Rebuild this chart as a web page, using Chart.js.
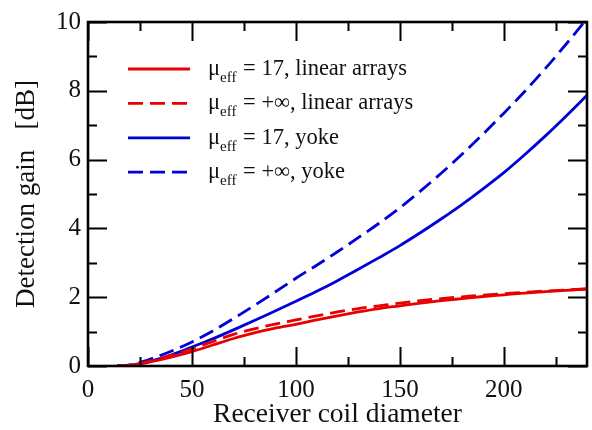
<!DOCTYPE html>
<html>
<head>
<meta charset="utf-8">
<script src="https://cdn.jsdelivr.net/npm/chart.js@4.4.1/dist/chart.umd.min.js"></script>
<style>
  html, body { margin: 0; padding: 0; background: #fff; }
  #wrap { width: 592px; height: 430px; }
</style>
</head>
<body>
<div id="wrap"><canvas id="chart" width="592" height="430"></canvas></div>
<script>
// receiver coil diameter (x)
const diameters = [14, 20, 25, 30, 40, 50, 60, 70, 80, 90, 100, 110, 120, 130, 140, 150, 160, 170, 180, 190, 200, 210, 220, 230, 240];

// detection gain [dB]
const linear17 = [0, 0.02, 0.06, 0.12, 0.26, 0.42, 0.61, 0.80, 0.96, 1.10, 1.21, 1.34, 1.46, 1.57, 1.67, 1.75, 1.83, 1.90, 1.96, 2.02, 2.07, 2.12, 2.16, 2.20, 2.24];
const linearInf = [0, 0.02, 0.07, 0.14, 0.31, 0.50, 0.71, 0.92, 1.08, 1.22, 1.34, 1.46, 1.57, 1.67, 1.75, 1.83, 1.90, 1.96, 2.01, 2.06, 2.10, 2.14, 2.18, 2.21, 2.24];
const yoke17 = [0, 0.02, 0.07, 0.14, 0.32, 0.55, 0.79, 1.05, 1.32, 1.60, 1.88, 2.17, 2.48, 2.81, 3.15, 3.50, 3.88, 4.28, 4.70, 5.15, 5.62, 6.14, 6.69, 7.27, 7.87];
const yokeInf = [0, 0.03, 0.10, 0.20, 0.43, 0.70, 1.02, 1.38, 1.76, 2.15, 2.55, 2.93, 3.32, 3.73, 4.15, 4.60, 5.09, 5.61, 6.16, 6.74, 7.35, 7.98, 8.65, 9.36, 10.1];

const muValues = ['17', '+\u221E', '17', '+\u221E'];
const setups = ['linear arrays', 'linear arrays', 'yoke', 'yoke'];

const xTicks = [0, 50, 100, 150, 200];
const yTicks = [0, 2, 4, 6, 8, 10];

const RED = '#e80000';
const BLUE = '#0000d8';
const SERIF = "'Liberation Serif', 'Times New Roman', serif";

const pts = vals => diameters.map((d, i) => ({ x: d, y: vals[i] }));

function series(vals, color, dashed) {
  return {
    data: pts(vals),
    borderColor: color,
    borderWidth: 2.8,
    borderDash: dashed ? [15, 7] : [],
    pointRadius: 0,
    cubicInterpolationMode: 'monotone',
    fill: false
  };
}

// frame, inward ticks on all four sides, and the legend with subscripts
const framePlugin = {
  id: 'frame',
  afterDraw(chart) {
    const { ctx, chartArea: a, scales } = chart;
    const xs = scales.x, ys = scales.y;
    ctx.save();
    ctx.strokeStyle = '#000';
    ctx.lineWidth = 2;
    for (let v = 0; v <= 240; v += 25) {
      const px = Math.round(xs.getPixelForValue(v)) + 0.5;
      const len = v % 50 === 0 ? 19 : 9;
      ctx.beginPath();
      ctx.moveTo(px, a.bottom); ctx.lineTo(px, a.bottom - len);
      ctx.moveTo(px, a.top); ctx.lineTo(px, a.top + len);
      ctx.stroke();
    }
    for (let v = 0; v <= 10; v += 1) {
      const py = Math.round(ys.getPixelForValue(v)) + 0.5;
      const len = v % 2 === 0 ? 19 : 9;
      ctx.beginPath();
      ctx.moveTo(a.left, py); ctx.lineTo(a.left + len, py);
      ctx.moveTo(a.right, py); ctx.lineTo(a.right - len, py);
      ctx.stroke();
    }
    ctx.lineWidth = 2.6;
    ctx.strokeRect(a.left, a.top, a.right - a.left, a.bottom - a.top);

    // legend
    const colors = [RED, RED, BLUE, BLUE];
    const dashes = [false, true, false, true];
    ctx.fillStyle = '#111';
    ctx.textBaseline = 'alphabetic';
    ctx.textAlign = 'left';
    for (let i = 0; i < 4; i++) {
      const ly = 69 + i * 34.4;
      ctx.beginPath();
      ctx.strokeStyle = colors[i];
      ctx.lineWidth = 2.8;
      ctx.setLineDash(dashes[i] ? [15, 7] : []);
      ctx.moveTo(128, ly); ctx.lineTo(190, ly);
      ctx.stroke();
      ctx.setLineDash([]);
      const base = ly + 6;
      let tx = 208;
      ctx.font = '22.5px ' + SERIF;
      ctx.fillText('\u03BC', tx, base);
      tx += ctx.measureText('\u03BC').width;
      ctx.font = '15px ' + SERIF;
      ctx.fillText('eff', tx, base + 7);
      tx += ctx.measureText('eff').width + 1;
      ctx.font = '22.5px ' + SERIF;
      ctx.fillText(' = ' + muValues[i] + ', ' + setups[i], tx, base);
    }
    ctx.restore();
  }
};

new Chart(document.getElementById('chart'), {
  type: 'line',
  data: {
    datasets: [
      series(linear17, RED, false),
      series(linearInf, RED, true),
      series(yoke17, BLUE, false),
      series(yokeInf, BLUE, true)
    ]
  },
  options: {
    responsive: false,
    animation: false,
    layout: { padding: { top: 16, right: 5, left: 0, bottom: 0 } },
    plugins: { legend: { display: false }, tooltip: { enabled: false } },
    scales: {
      x: {
        type: 'linear',
        min: 0,
        max: 240,
        afterBuildTicks: s => { s.ticks = xTicks.map(v => ({ value: v })); },
        afterFit: s => { s.height = 64; },
        grid: { display: false, drawTicks: false },
        border: { display: false },
        ticks: { color: '#111', padding: 9, maxRotation: 0, font: { family: SERIF, size: 25 } },
        title: {
          display: true,
          text: 'Receiver coil diameter',
          color: '#111',
          font: { family: SERIF, size: 27.5, lineHeight: 1 },
          padding: { top: 0, bottom: 1 }
        }
      },
      y: {
        min: 0,
        max: 10,
        afterBuildTicks: s => { s.ticks = yTicks.map(v => ({ value: v })); },
        afterFit: s => { s.width = 88; },
        grid: { display: false, drawTicks: false },
        border: { display: false },
        ticks: { color: '#111', padding: 7, font: { family: SERIF, size: 25 } },
        title: {
          display: true,
          text: 'Detection gain   [dB]',
          color: '#111',
          font: { family: SERIF, size: 27, lineHeight: 1 },
          padding: { top: 13, bottom: 0 }
        }
      }
    }
  },
  plugins: [framePlugin]
});
</script>
</body>
</html>
